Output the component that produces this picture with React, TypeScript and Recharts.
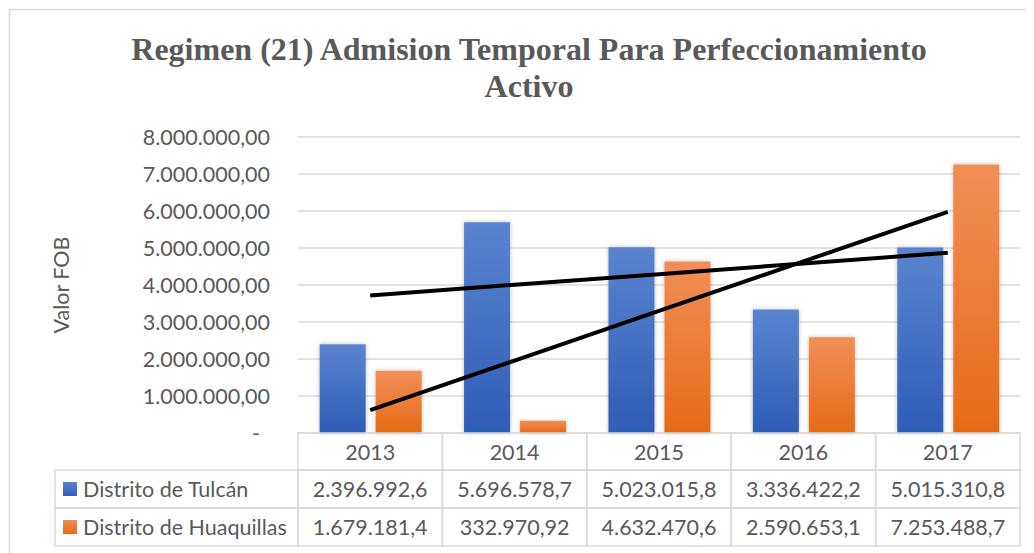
import React from 'react';
import { ComposedChart, Bar, Line, XAxis, YAxis, CartesianGrid } from 'recharts';

const years = ['2013', '2014', '2015', '2016', '2017'];
const tulcan = [2396992.6, 5696578.7, 5023015.8, 3336422.2, 5015310.8];
const huaquillas = [1679181.4, 332970.92, 4632470.6, 2590653.1, 7253488.7];
const tulcanLabels = ['2.396.992,6', '5.696.578,7', '5.023.015,8', '3.336.422,2', '5.015.310,8'];
const huaquillasLabels = ['1.679.181,4', '332.970,92', '4.632.470,6', '2.590.653,1', '7.253.488,7'];
const seriesNames = ['Distrito de Tulcán', 'Distrito de Huaquillas'];
const yTicks = [0, 1000000, 2000000, 3000000, 4000000, 5000000, 6000000, 7000000, 8000000];
const titleLines = ['Regimen (21) Admision Temporal Para Perfeccionamiento', 'Activo'];
const yAxisTitle = 'Valor FOB';

// linear least-squares trendline (as Excel draws it)
const trend = (vals: number[]) => {
  const n = vals.length;
  const xs = vals.map((_, i) => i + 1);
  const mx = xs.reduce((a, b) => a + b, 0) / n;
  const my = vals.reduce((a, b) => a + b, 0) / n;
  let num = 0, den = 0;
  xs.forEach((x, i) => { num += (x - mx) * (vals[i] - my); den += (x - mx) ** 2; });
  const slope = num / den;
  return xs.map((x) => my + slope * (x - mx));
};
const trendT = trend(tulcan);
const trendH = trend(huaquillas);

const data = years.map((y, i) => ({
  year: y,
  tulcan: tulcan[i],
  huaquillas: huaquillas[i],
  trendT: trendT[i],
  trendH: trendH[i],
  tLabel: tulcanLabels[i],
  hLabel: huaquillasLabels[i],
}));

const W = 1026;
const H = 545;
const MARGIN = { top: 129, right: 14, left: 0, bottom: 7 };
const YAXIS_W = 290;
const PLOT_W = W - MARGIN.left - MARGIN.right - YAXIS_W;
const BAND = PLOT_W / years.length;
const LEGEND_X = 47;
const ROWS = [0, 37, 75, 113];
const GRID = '#d9d9d9';
const TEXT = '#595959';
const FONT = 'Lato, "Noto Sans", sans-serif';
const FS = 21.5;

const fmt = (v: number) => {
  if (v === 0) return '-';
  const int = Math.floor(v).toString().replace(/\B(?=(\d{3})+(?!\d))/g, '.');
  return int + ',00';
};

const YTick = (props: any) => {
  const { x, y, payload } = props;
  const v = payload.value;
  return (
    <text x={v === 0 ? x - 10 : x} y={y} textAnchor="end" dominantBaseline="central"
      fill={TEXT} fontSize={FS} fontFamily={FONT}>{fmt(v)}</text>
  );
};

const TableTick = (props: any) => {
  const { x, y, index } = props;
  const d = data[index];
  const left = x - BAND / 2;
  const cells = [];
  for (let r = 0; r < 3; r++) {
    cells.push(
      <rect key={'c' + r} x={left} y={y + ROWS[r]} width={BAND} height={ROWS[r + 1] - ROWS[r]}
        fill="none" stroke={GRID} strokeWidth={1.5} />
    );
  }
  const texts = [d.year, d.tLabel, d.hLabel];
  const legend = index === 0 ? (
    <g>
      {[1, 2].map((r) => (
        <g key={'l' + r}>
          <rect x={LEGEND_X} y={y + ROWS[r]} width={left - LEGEND_X} height={ROWS[r + 1] - ROWS[r]}
            fill="none" stroke={GRID} strokeWidth={1.5} />
          <rect x={LEGEND_X + 8} y={y + (ROWS[r] + ROWS[r + 1]) / 2 - 7} width={14} height={14}
            fill={`url(#${r === 1 ? 'gBlue' : 'gOrange'})`} />
          <text x={LEGEND_X + 28} y={y + (ROWS[r] + ROWS[r + 1]) / 2} dominantBaseline="central"
            fill={TEXT} fontSize={FS} fontFamily={FONT}>{seriesNames[r - 1]}</text>
        </g>
      ))}
    </g>
  ) : null;
  return (
    <g>
      {cells}
      {legend}
      {texts.map((t, r) => (
        <text key={'t' + r} x={x} y={y + (ROWS[r] + ROWS[r + 1]) / 2} textAnchor="middle"
          dominantBaseline="central" fill={TEXT} fontSize={FS} fontFamily={FONT}>{t}</text>
      ))}
    </g>
  );
};

export default function App() {
  return (
    <div style={{ width: W, height: H, overflow: 'hidden', position: 'relative', background: '#fff' }}>
      <ComposedChart width={W} height={H} data={data} margin={MARGIN}
        barCategoryGap="15%" barGap={10}>
        <defs>
          <linearGradient id="gBlue" x1="0" y1="0" x2="0" y2="1">
            <stop offset="0%" stopColor="#5b84cf" />
            <stop offset="100%" stopColor="#2e5db7" />
          </linearGradient>
          <linearGradient id="gOrange" x1="0" y1="0" x2="0" y2="1">
            <stop offset="0%" stopColor="#f18e57" />
            <stop offset="100%" stopColor="#e56b17" />
          </linearGradient>
          <filter id="shadow" x="-20%" y="-10%" width="140%" height="120%">
            <feDropShadow dx="0" dy="0" stdDeviation="2" floodColor="#000" floodOpacity="0.25" />
          </filter>
        </defs>
        <rect x={1.5} y={1.5} width={W + 10} height={H + 10} fill="none" stroke={GRID} strokeWidth={1.5} />
        <text x={521} y={52} textAnchor="middle" fill={TEXT} fontSize={32} fontWeight="bold"
          fontFamily='"Liberation Serif", "Times New Roman", serif'>{titleLines[0]}</text>
        <text x={521} y={89} textAnchor="middle" fill={TEXT} fontSize={32} fontWeight="bold"
          fontFamily='"Liberation Serif", "Times New Roman", serif'>{titleLines[1]}</text>
        <text x={53} y={277} transform="rotate(-90 53 277)" textAnchor="middle" dominantBaseline="central"
          fill={TEXT} fontSize={FS} fontFamily={FONT}>{yAxisTitle}</text>
        <CartesianGrid vertical={false} stroke={GRID} strokeWidth={1.3} />
        <YAxis width={YAXIS_W} domain={[0, 8000000]} ticks={yTicks} axisLine={false} tickLine={false}
          tickSize={0} tickMargin={28} tick={<YTick />} interval={0} />
        <XAxis dataKey="year" height={113} axisLine={false} tickLine={false} tickSize={0} tickMargin={0}
          tick={<TableTick />} interval={0} />
        <Bar dataKey="tulcan" name={seriesNames[0]} fill="url(#gBlue)" filter="url(#shadow)" isAnimationActive={false} />
        <Bar dataKey="huaquillas" name={seriesNames[1]} fill="url(#gOrange)" filter="url(#shadow)" isAnimationActive={false} />
        <Line dataKey="trendT" stroke="#000" strokeWidth={4} dot={false} activeDot={false} isAnimationActive={false} />
        <Line dataKey="trendH" stroke="#000" strokeWidth={4} dot={false} activeDot={false} isAnimationActive={false} />
      </ComposedChart>
    </div>
  );
}
